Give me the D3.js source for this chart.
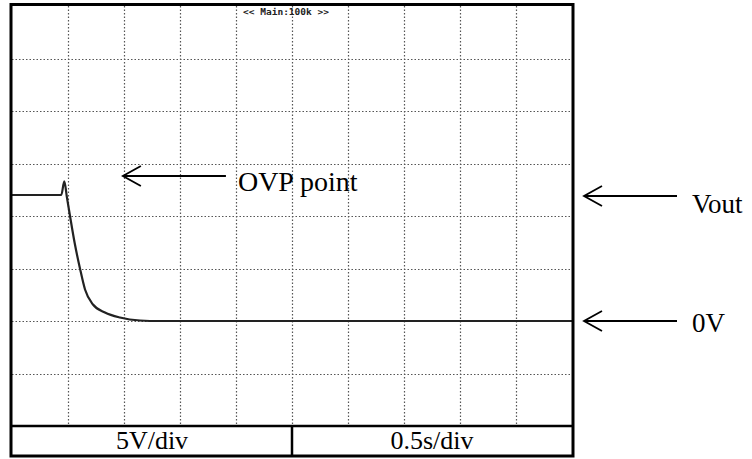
<!DOCTYPE html>
<html>
<head>
<meta charset="utf-8">
<script src="https://cdn.jsdelivr.net/npm/d3@7"></script>
<style>
  body { margin: 0; background: #fff; }
  svg { display: block; }
</style>
</head>
<body>
<div class="chart"></div>
<script>
// trace: time (s) and voltage (V)
const times = [0, 0.44, 0.467, 0.49, 0.518, 0.56, 0.607, 0.652, 0.723, 0.83, 0.964, 1.143, 1.32, 5.0];
const volts = [12, 12, 13.3, 11.8, 10.0, 7.4, 5.0, 3.0, 1.57, 0.81, 0.33, 0.05, 0, 0];

const xTicks = [0, 0.5, 1, 1.5, 2, 2.5, 3, 3.5, 4, 4.5, 5];
const yTicks = [-10, -5, 0, 5, 10, 15, 20, 25, 30];

const scopeTitle = "<< Main:100k >>";
const footLabels = ["5V/div", "0.5s/div"];
const notes = [
    {text: "OVP point", v: 13.8, t0: 0.99, t1: 1.91, size: 28, dy: 15},
    {text: "Vout", v: 11.9, out: true, size: 27, dy: 17},
    {text: "0V", v: 0, out: true, size: 27, dy: 11}
];

const width = 752, height = 459;
const plot = {left: 12, right: 572, top: 6, bottom: 426};
const footBottom = 456;

const svg = d3.select(".chart").append("svg")
    .attr("width", width)
    .attr("height", height);

const xScale = d3.scaleLinear()
    .domain([0, 5])
    .range([plot.left, plot.right]);

const yScale = d3.scaleLinear()
    .domain([-10, 30])
    .range([plot.bottom, plot.top]);

// dotted graticule
const grid = svg.append("g")
    .attr("stroke", "#555")
    .attr("stroke-width", 1.2)
    .attr("stroke-dasharray", "1.5,2");

grid.selectAll("line.v")
    .data(xTicks.slice(1, -1))
    .join("line")
    .attr("class", "v")
    .attr("x1", d => Math.round(xScale(d)) + 0.5)
    .attr("x2", d => Math.round(xScale(d)) + 0.5)
    .attr("y1", plot.top)
    .attr("y2", plot.bottom);

grid.selectAll("line.h")
    .data(yTicks.slice(1, -1))
    .join("line")
    .attr("class", "h")
    .attr("x1", plot.left)
    .attr("x2", plot.right)
    .attr("y1", d => Math.round(yScale(d)) + 0.5)
    .attr("y2", d => Math.round(yScale(d)) + 0.5);

// title on the scope screen
svg.append("text")
    .attr("x", (plot.left + plot.right) / 2 - 6)
    .attr("y", 15)
    .attr("text-anchor", "middle")
    .attr("font-family", "DejaVu Sans Mono")
    .attr("font-weight", "bold")
    .attr("font-size", 9.5)
    .attr("fill", "#222")
    .text(scopeTitle);

// the trace
const pts = times.map((t, i) => ({t: t, v: volts[i]}));
const line = d3.line()
    .curve(d3.curveMonotoneX)
    .x(d => xScale(d.t))
    .y(d => yScale(d.v));

svg.append("path")
    .datum(pts)
    .attr("fill", "none")
    .attr("stroke", "#222")
    .attr("stroke-width", 2.2)
    .attr("stroke-linejoin", "round")
    .attr("d", line);

// frame and footer
svg.append("rect")
    .attr("x", 11)
    .attr("y", 4.5)
    .attr("width", 562)
    .attr("height", footBottom - 4.5)
    .attr("fill", "none")
    .attr("stroke", "#000")
    .attr("stroke-width", 3);

svg.append("line")
    .attr("x1", 11).attr("x2", 573)
    .attr("y1", plot.bottom).attr("y2", plot.bottom)
    .attr("stroke", "#000").attr("stroke-width", 2.5);

const mid = xScale(2.5);
svg.append("line")
    .attr("x1", mid).attr("x2", mid)
    .attr("y1", plot.bottom).attr("y2", footBottom)
    .attr("stroke", "#000").attr("stroke-width", 2.5);

svg.selectAll("text.foot")
    .data(footLabels)
    .join("text")
    .attr("class", "foot")
    .attr("x", (d, i) => i === 0 ? (plot.left + mid) / 2 : (mid + plot.right) / 2)
    .attr("y", 449)
    .attr("text-anchor", "middle")
    .attr("font-family", "Liberation Serif")
    .attr("font-size", 26)
    .text(d => d);

// arrows and notes
function arrow(x1, x2, y) {
    const g = svg.append("g")
        .attr("stroke", "#000")
        .attr("stroke-width", 1.8)
        .attr("fill", "none");
    g.append("line").attr("x1", x1).attr("x2", x2).attr("y1", y).attr("y2", y);
    g.append("path").attr("d", `M${x1 + 18},${y - 10}L${x1},${y}L${x1 + 18},${y + 10}`);
}

notes.forEach(n => {
    const y = Math.round(yScale(n.v));
    let x1, x2;
    if (n.out) { x1 = 584; x2 = 677; }
    else { x1 = xScale(n.t0); x2 = xScale(n.t1); }
    arrow(x1, x2, y);
    svg.append("text")
        .attr("x", x2 + (n.out ? 15 : 12))
        .attr("y", y + n.dy)
        .attr("font-family", "Liberation Serif")
        .attr("font-size", n.size)
        .text(n.text);
});
</script>
</body>
</html>
